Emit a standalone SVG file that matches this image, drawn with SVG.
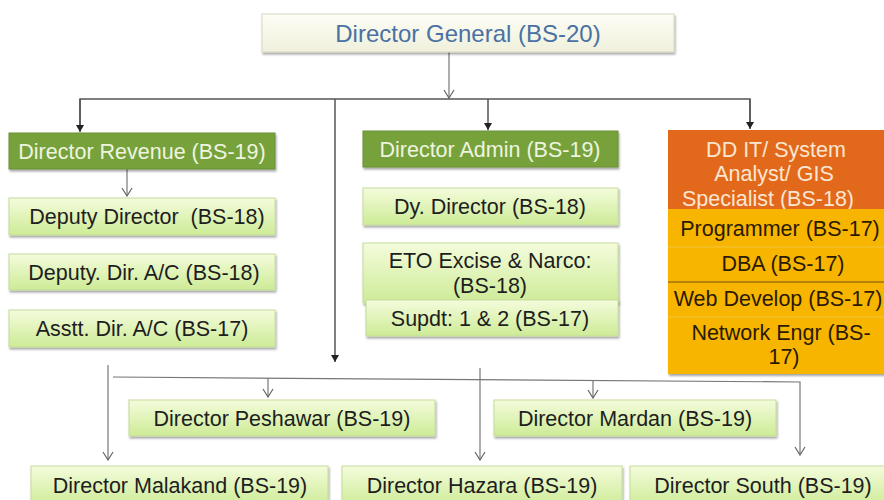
<svg xmlns="http://www.w3.org/2000/svg" width="884" height="500" viewBox="0 0 884 500">
  <defs>
    <linearGradient id="lightGreen" x1="0" y1="0" x2="0" y2="1">
      <stop offset="0" stop-color="#f4fcdc"/>
      <stop offset="1" stop-color="#cdeb96"/>
    </linearGradient>
    <linearGradient id="cream" x1="0" y1="0" x2="0" y2="1">
      <stop offset="0" stop-color="#fdfdf6"/>
      <stop offset="1" stop-color="#f0f0dc"/>
    </linearGradient>
    <filter id="shadow" x="-5%" y="-20%" width="110%" height="150%">
      <feDropShadow dx="1" dy="2" stdDeviation="1.2" flood-color="#000" flood-opacity="0.35"/>
    </filter>
    <!-- small filled arrowhead, drawn pointing down -->
    <marker id="solid" markerWidth="8" markerHeight="8" refX="4" refY="7" markerUnits="userSpaceOnUse" viewBox="0 0 8 8">
      <path d="M0,0 L8,0 L4,7 Z" fill="#222"/>
    </marker>
    <!-- open V arrowhead, drawn pointing down -->
    <marker id="open" markerWidth="12" markerHeight="10" refX="6" refY="9" markerUnits="userSpaceOnUse" viewBox="0 0 12 10">
      <path d="M1,1 L6,9 L11,1" fill="none" stroke="#666" stroke-width="1.2"/>
    </marker>
  </defs>
  <style>
    text { font-family: "Liberation Sans", Arial, sans-serif; text-anchor: middle; white-space: pre; }
    .lg { fill: url(#lightGreen); stroke: #c4dc9c; stroke-width: 1; filter: url(#shadow); }
    .dg { fill: #77a23a; stroke: #6a8f35; stroke-width: 1; filter: url(#shadow); }
    .t { font-size: 21.5px; fill: #1e1e1e; }
    .tw { font-size: 21.5px; fill: #eef4e0; }
    .ty { font-size: 21.5px; fill: #2a1a00; }
    .to { font-size: 21.5px; fill: #fbe6d2; }
    .line { fill: none; stroke: #555; stroke-width: 1.5; }
    .thin { fill: none; stroke: #777; stroke-width: 1.2; }
  </style>

  <!-- connectors -->
  <g id="connectors">
    <line class="thin" x1="449" y1="52" x2="449" y2="98" marker-end="url(#open)"/>
    <polyline class="line" points="80,125 80,99 750,99 750,125"/>
    <line class="line" x1="80" y1="99" x2="80" y2="132" marker-end="url(#solid)"/>
    <line class="line" x1="488" y1="99" x2="488" y2="130" marker-end="url(#solid)"/>
    <line class="line" x1="750" y1="99" x2="750" y2="129" marker-end="url(#solid)"/>
    <line class="line" x1="335" y1="99" x2="335" y2="362" marker-end="url(#solid)"/>
    <line class="thin" x1="127" y1="169" x2="127" y2="196" marker-end="url(#open)"/>
    <polyline class="thin" points="113,377 800,382 800,455" marker-end="url(#open)"/>
    <line class="thin" x1="268" y1="378" x2="268" y2="397" marker-end="url(#open)"/>
    <line class="thin" x1="593" y1="380" x2="593" y2="398" marker-end="url(#open)"/>
    <line class="thin" x1="108" y1="365" x2="108" y2="460" marker-end="url(#open)"/>
    <line class="thin" x1="480" y1="368" x2="480" y2="460" marker-end="url(#open)"/>
  </g>

  <g id="director-general">
    <rect x="262" y="14" width="412" height="38" fill="url(#cream)" stroke="#d8d8c0" filter="url(#shadow)"/>
    <text x="468" y="42" style="font-size:24px;fill:#4a71a3;">Director General (BS-20)</text>
  </g>

  <g id="director-revenue">
    <rect class="dg" x="9" y="133" width="266" height="36"/>
    <text class="tw" x="142" y="159">Director Revenue (BS-19)</text>
  </g>
  <g id="deputy-director">
    <rect class="lg" x="9" y="198" width="266" height="37"/>
    <text class="t" x="147" y="224">Deputy Director  (BS-18)</text>
  </g>
  <g id="deputy-dir-ac">
    <rect class="lg" x="9" y="254" width="266" height="36"/>
    <text class="t" x="144" y="280">Deputy. Dir. A/C (BS-18)</text>
  </g>
  <g id="asstt-dir-ac">
    <rect class="lg" x="9" y="310" width="266" height="37"/>
    <text class="t" x="142" y="336">Asstt. Dir. A/C (BS-17)</text>
  </g>

  <g id="director-admin">
    <rect class="dg" x="363" y="131" width="255" height="36"/>
    <text class="tw" x="490" y="157">Director Admin (BS-19)</text>
  </g>
  <g id="dy-director">
    <rect class="lg" x="363" y="188" width="255" height="37"/>
    <text class="t" x="490" y="214">Dy. Director (BS-18)</text>
  </g>
  <g id="eto-excise">
    <rect class="lg" x="363" y="243" width="255" height="60"/>
    <text class="t" x="490" y="268">ETO Excise &amp; Narco:</text>
    <text class="t" x="490" y="293">(BS-18)</text>
  </g>
  <g id="supdt">
    <rect class="lg" x="366" y="300" width="252" height="36"/>
    <text class="t" x="490" y="326">Supdt: 1 &amp; 2 (BS-17)</text>
  </g>

  <g id="it-staff">
    <rect x="668" y="210" width="216" height="164" fill="#f8b500" filter="url(#shadow)"/>
    <line x1="668" y1="247" x2="884" y2="247" stroke="#f2c440" stroke-width="1"/>
    <line x1="668" y1="282" x2="884" y2="282" stroke="#a07010" stroke-width="1.5"/>
    <line x1="668" y1="317" x2="884" y2="317" stroke="#f2c440" stroke-width="1"/>
    <text class="ty" x="780" y="236">Programmer (BS-17)</text>
    <text class="ty" x="783" y="271">DBA (BS-17)</text>
    <text class="ty" x="778" y="306">Web Develop (BS-17)</text>
    <text class="ty" x="781" y="340">Network Engr (BS-</text>
    <text class="ty" x="784" y="364">17)</text>
  </g>
  <g id="dd-it">
    <rect x="668" y="130" width="216" height="80" fill="#e2691b"/>
    <text class="to" x="776" y="157">DD IT/ System</text>
    <text class="to" x="774" y="181">Analyst/ GIS</text>
    <text class="to" x="768" y="206">Specialist (BS-18)</text>
    <rect x="668" y="209" width="216" height="2" fill="#f8b500"/>
  </g>

  <g id="director-peshawar">
    <rect class="lg" x="129" y="400" width="306" height="36"/>
    <text class="t" x="282" y="426">Director Peshawar (BS-19)</text>
  </g>
  <g id="director-mardan">
    <rect class="lg" x="494" y="400" width="282" height="36"/>
    <text class="t" x="635" y="426">Director Mardan (BS-19)</text>
  </g>
  <g id="director-malakand">
    <rect class="lg" x="31" y="466" width="297" height="40"/>
    <text class="t" x="180" y="493">Director Malakand (BS-19)</text>
  </g>
  <g id="director-hazara">
    <rect class="lg" x="342" y="466" width="280" height="40"/>
    <text class="t" x="482" y="493">Director Hazara (BS-19)</text>
  </g>
  <g id="director-south">
    <rect class="lg" x="630" y="466" width="260" height="40"/>
    <text class="t" x="763" y="493">Director South (BS-19)</text>
  </g>
</svg>
